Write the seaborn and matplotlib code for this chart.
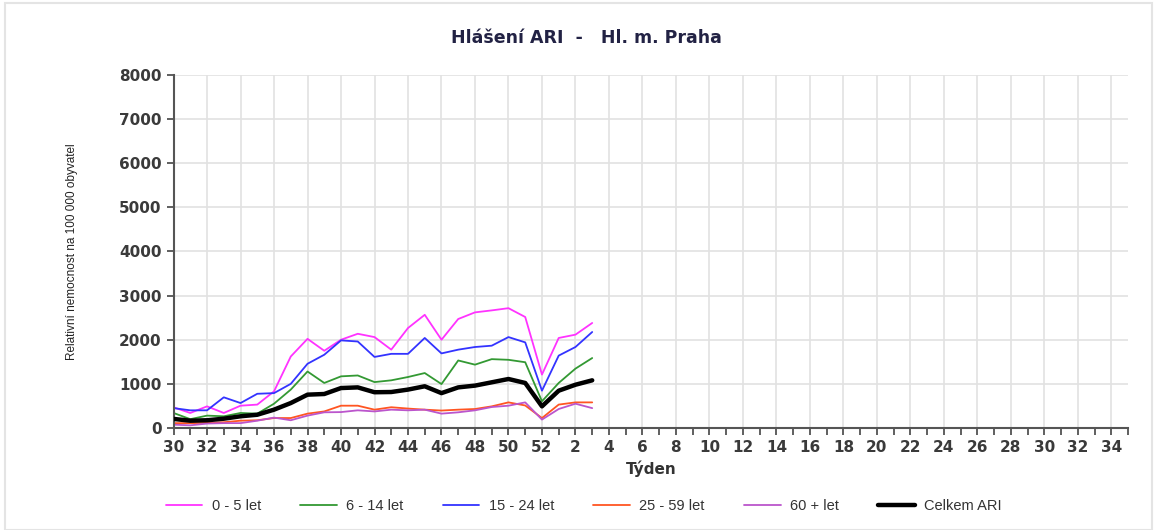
import numpy as np
import pandas as pd
import matplotlib
matplotlib.use("Agg")
import matplotlib.pyplot as plt
import seaborn as sns

# season axis: week 30 .. 52, then 1 .. 35
axis_weeks = list(range(30, 53)) + list(range(1, 36))
data_weeks = list(range(30, 53)) + [1, 2, 3]

age_0_5 = [468, 340, 490, 340, 505, 530, 830, 1620, 2020, 1750, 2000, 2135, 2060,
           1775, 2265, 2565, 2000, 2470, 2620, 2665, 2715, 2515, 1210, 2040, 2115, 2380]
age_6_14 = [340, 200, 280, 265, 340, 325, 550, 870, 1280, 1020, 1170, 1190, 1040,
            1080, 1155, 1245, 995, 1530, 1435, 1560, 1545, 1490, 605, 1020, 1345, 1585]
age_15_24 = [450, 400, 400, 695, 565, 775, 790, 1000, 1455, 1660, 1985, 1960, 1610,
             1680, 1680, 2040, 1690, 1775, 1835, 1865, 2060, 1940, 845, 1640, 1835, 2175]
age_25_59 = [110, 110, 115, 130, 165, 175, 225, 225, 325, 375, 505, 505, 415,
             470, 440, 415, 395, 415, 430, 490, 580, 510, 225, 530, 580, 580]
age_60 = [75, 60, 100, 110, 110, 165, 235, 175, 280, 355, 360, 400, 375,
          415, 400, 415, 325, 355, 400, 475, 505, 580, 190, 430, 550, 450]
total = [205, 165, 175, 210, 265, 300, 415, 565, 755, 770, 905, 920, 810,
         815, 870, 945, 790, 920, 960, 1035, 1110, 1020, 490, 845, 980, 1080]

series_names = ["0 - 5 let", "6 - 14 let", "15 - 24 let", "25 - 59 let", "60 + let", "Celkem ARI"]
series_vals = [age_0_5, age_6_14, age_15_24, age_25_59, age_60, total]
colors = ["#ff33ff", "#339933", "#3333ff", "#ff5522", "#bb55cc", "#000000"]

pos = [axis_weeks.index(w) for w in data_weeks]
pos[-3:] = [23, 24, 25]  # weeks 1-3 of next year
rows = []
for name, vals in zip(series_names, series_vals):
    for p, v in zip(pos, vals):
        rows.append({"pos": p, "value": v, "group": name})
df = pd.DataFrame(rows)

sns.set_style("white")
plt.rcParams['font.family'] = ['Liberation Sans', 'DejaVu Sans']

fig = plt.figure(figsize=(11.57, 5.30), dpi=100)
ax = fig.add_axes([0.150, 0.1925, 0.825, 0.666])

for name, col in zip(series_names, colors):
    lw = 3.2 if name == "Celkem ARI" else 1.3
    sns.lineplot(data=df[df["group"] == name], x="pos", y="value", color=col,
                 linewidth=lw, label=name, ax=ax, zorder=3 if lw > 2 else 2)

ax.set_xlim(0, len(axis_weeks) - 1)
ax.set_ylim(0, 8000)
ax.set_yticks(np.arange(0, 8001, 1000))
ax.set_xticks(range(0, len(axis_weeks), 2))
ax.set_xticklabels([str(axis_weeks[i]) for i in range(0, len(axis_weeks), 2)])
ax.set_xticks(range(len(axis_weeks)), minor=True)
ax.grid(True, which="major", color="#e2e2e2", linewidth=1.2)
ax.tick_params(axis="both", which="major", labelsize=11, labelcolor="#3a3a3a",
               direction="out", length=5, width=1.2, color="#444444", bottom=True, left=True)
ax.tick_params(axis="x", which="minor", direction="out", length=5, width=1.2,
               color="#444444", bottom=True)
for lab in ax.get_xticklabels() + ax.get_yticklabels():
    lab.set_fontweight("bold")
    lab.set_family("DejaVu Sans")
for s in ["top", "right"]:
    ax.spines[s].set_visible(False)
for s in ["left", "bottom"]:
    ax.spines[s].set_color("#555555")
    ax.spines[s].set_linewidth(1.5)

ax.set_xlabel("Týden", fontsize=11, color="#333333", fontweight="bold", family="DejaVu Sans")
ax.set_ylabel("Relativní nemocnost na 100 000 obyvatel", fontsize=8.5, color="#222222")
ax.yaxis.set_label_coords(-0.1, 0.5)
fig.text(0.507, 0.928, "Hlášení ARI  -   Hl. m. Praha", ha="center", va="center",
         fontsize=12.5, fontweight="bold", color="#222244", family="DejaVu Sans")

leg = ax.legend(loc="upper left", bbox_to_anchor=(-0.022, -0.165), ncol=6, frameon=False,
                fontsize=10.5, handlelength=2.5, columnspacing=2.7, handletextpad=0.65)
for t in leg.get_texts():
    t.set_color("#333333")

fig.patches.append(plt.Rectangle((0.004, 0.0), 0.992, 0.995, transform=fig.transFigure,
                                 fill=False, edgecolor="#e4e4e4", linewidth=1.5))

fig.savefig("out.png", dpi=100)
